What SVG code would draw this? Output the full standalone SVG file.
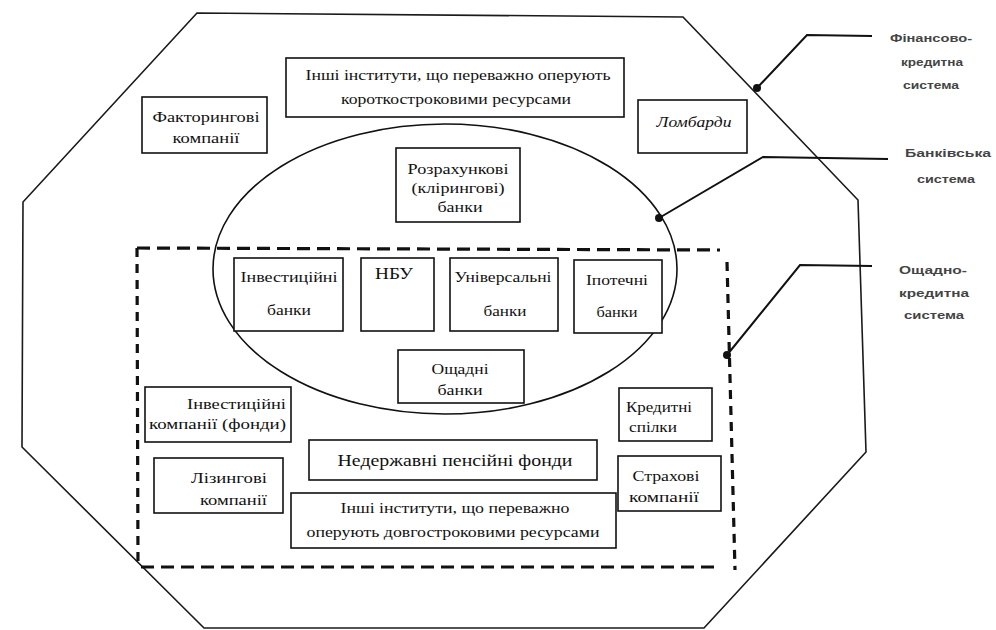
<svg xmlns="http://www.w3.org/2000/svg" width="996" height="630" viewBox="0 0 996 630">
<style>
.bx{fill:#fff;stroke:#111;stroke-width:1.6}
.t{font-size:15px;fill:#111;text-anchor:middle}
.lbl{font-family:'Liberation Sans','DejaVu Sans',sans-serif;font-size:11px;font-weight:bold;fill:#444;text-anchor:middle}
.dash{fill:none;stroke:#111;stroke-width:3.2}
.con{fill:none;stroke:#111;stroke-width:2}
</style>
<rect width="996" height="630" fill="#fff"/>
<g id="financial-credit-system">
<polygon points="197,13 683,17 858,200 866,452 704,628 204,628 22,447 23,202" fill="none" stroke="#1a1a1a" stroke-width="1.6"/>
</g>
<g id="banking-system">
<ellipse cx="445" cy="269" rx="232" ry="145" fill="none" stroke="#111" stroke-width="1.6"/>
</g>
<g id="savings-credit-system">
<line class="dash" x1="137" y1="248" x2="720" y2="250" stroke-dasharray="13,7"/>
<line class="dash" x1="727" y1="262" x2="735" y2="570" stroke-dasharray="9,7"/>
<line class="dash" x1="141" y1="567" x2="714" y2="567" stroke-dasharray="13,7"/>
<line class="dash" x1="137" y1="248" x2="138" y2="568" stroke-dasharray="9,7"/>
</g>
<g font-family="Liberation Serif, Times New Roman, DejaVu Serif, serif">
<g id="short-term-institutes">
<rect class="bx" x="286" y="58" width="338" height="59"/>
<text class="t" x="458" y="80" textLength="305" lengthAdjust="spacingAndGlyphs">Інші інститути, що переважно оперують</text>
<text class="t" x="456" y="104" textLength="230" lengthAdjust="spacingAndGlyphs">короткостроковими ресурсами</text>
</g>
<g id="factoring">
<rect class="bx" x="142" y="97" width="125" height="56"/>
<text class="t" x="206" y="122" textLength="107" lengthAdjust="spacingAndGlyphs">Факторингові</text>
<text class="t" x="206" y="143" textLength="67" lengthAdjust="spacingAndGlyphs">компанії</text>
</g>
<g id="pawnshops">
<rect class="bx" x="638" y="100" width="109" height="53"/>
<text class="t" x="694" y="127" font-style="italic" textLength="75" lengthAdjust="spacingAndGlyphs">Ломбарди</text>
</g>
<g id="clearing-banks">
<rect class="bx" x="396" y="148" width="124" height="74"/>
<text class="t" x="458" y="174" textLength="101" lengthAdjust="spacingAndGlyphs">Розрахункові</text>
<text class="t" x="458" y="193" textLength="93" lengthAdjust="spacingAndGlyphs">(клірингові)</text>
<text class="t" x="460" y="212" textLength="45" lengthAdjust="spacingAndGlyphs">банки</text>
</g>
<g id="investment-banks">
<rect class="bx" x="234" y="258" width="109" height="73"/>
<text class="t" x="289" y="282" textLength="97" lengthAdjust="spacingAndGlyphs">Інвестиційні</text>
<text class="t" x="289" y="315" textLength="44" lengthAdjust="spacingAndGlyphs">банки</text>
</g>
<g id="nbu">
<rect class="bx" x="361" y="258" width="73" height="73"/>
<text class="t" x="394" y="279" style="font-size:16px" textLength="38" lengthAdjust="spacingAndGlyphs">НБУ</text>
</g>
<g id="universal-banks">
<rect class="bx" x="450" y="258" width="108" height="73"/>
<text class="t" x="503" y="282" textLength="97" lengthAdjust="spacingAndGlyphs">Універсальні</text>
<text class="t" x="505" y="316" textLength="43" lengthAdjust="spacingAndGlyphs">банки</text>
</g>
<g id="mortgage-banks">
<rect class="bx" x="574" y="260" width="88" height="73"/>
<text class="t" x="617" y="285" textLength="62" lengthAdjust="spacingAndGlyphs">Іпотечні</text>
<text class="t" x="617" y="317" textLength="41" lengthAdjust="spacingAndGlyphs">банки</text>
</g>
<g id="savings-banks">
<rect class="bx" x="398" y="350" width="126" height="53"/>
<text class="t" x="460" y="374" textLength="57" lengthAdjust="spacingAndGlyphs">Ощадні</text>
<text class="t" x="460" y="395" textLength="45" lengthAdjust="spacingAndGlyphs">банки</text>
</g>
<g id="investment-companies">
<rect class="bx" x="145" y="387" width="146" height="55"/>
<text class="t" x="286" y="409" style="text-anchor:end" textLength="99" lengthAdjust="spacingAndGlyphs">Інвестиційні</text>
<text class="t" x="286" y="429" style="text-anchor:end" textLength="137" lengthAdjust="spacingAndGlyphs">компанії (фонди)</text>
</g>
<g id="credit-unions">
<rect class="bx" x="619" y="388" width="93" height="53"/>
<text class="t" x="659" y="412" textLength="66" lengthAdjust="spacingAndGlyphs">Кредитні</text>
<text class="t" x="653" y="432" textLength="48" lengthAdjust="spacingAndGlyphs">спілки</text>
</g>
<g id="pension-funds">
<rect class="bx" x="309" y="440" width="288" height="40"/>
<text class="t" x="455" y="466" style="font-size:17px" textLength="235" lengthAdjust="spacingAndGlyphs">Недержавні пенсійні фонди</text>
</g>
<g id="leasing">
<rect class="bx" x="154" y="458" width="129" height="55"/>
<text class="t" x="267" y="483" style="text-anchor:end" textLength="76" lengthAdjust="spacingAndGlyphs">Лізингові</text>
<text class="t" x="267" y="505" style="text-anchor:end" textLength="67" lengthAdjust="spacingAndGlyphs">компанії</text>
</g>
<g id="insurance">
<rect class="bx" x="618" y="456" width="103" height="55"/>
<text class="t" x="666" y="481" textLength="67" lengthAdjust="spacingAndGlyphs">Страхові</text>
<text class="t" x="664" y="502" textLength="70" lengthAdjust="spacingAndGlyphs">компанії</text>
</g>
<g id="long-term-institutes">
<rect class="bx" x="291" y="493" width="325" height="55"/>
<text class="t" x="455" y="513" textLength="229" lengthAdjust="spacingAndGlyphs">Інші інститути, що переважно</text>
<text class="t" x="453" y="537" textLength="293" lengthAdjust="spacingAndGlyphs">оперують довгостроковими ресурсами</text>
</g>
</g>
<g id="connectors">
<polyline class="con" points="757,88 807,35 872,36"/>
<circle cx="757" cy="88" r="4" fill="#111"/>
<polyline class="con" points="659,218 763,157 888,159"/>
<circle cx="659" cy="218" r="4" fill="#111"/>
<polyline class="con" points="727,355 800,265 872,266"/>
<circle cx="727" cy="355" r="4" fill="#111"/>
</g>
<g id="label-financial">
<text class="lbl" x="931" y="42" textLength="82" lengthAdjust="spacingAndGlyphs">Фінансово-</text>
<text class="lbl" x="932" y="66" textLength="62" lengthAdjust="spacingAndGlyphs">кредитна</text>
<text class="lbl" x="931" y="89" textLength="56" lengthAdjust="spacingAndGlyphs">система</text>
</g>
<g id="label-banking">
<text class="lbl" x="948" y="157" textLength="86" lengthAdjust="spacingAndGlyphs">Банківська</text>
<text class="lbl" x="946" y="183" textLength="58" lengthAdjust="spacingAndGlyphs">система</text>
</g>
<g id="label-savings">
<text class="lbl" x="933" y="274" textLength="68" lengthAdjust="spacingAndGlyphs">Ощадно-</text>
<text class="lbl" x="934" y="297" textLength="70" lengthAdjust="spacingAndGlyphs">кредитна</text>
<text class="lbl" x="934" y="319" textLength="60" lengthAdjust="spacingAndGlyphs">система</text>
</g>
</svg>
